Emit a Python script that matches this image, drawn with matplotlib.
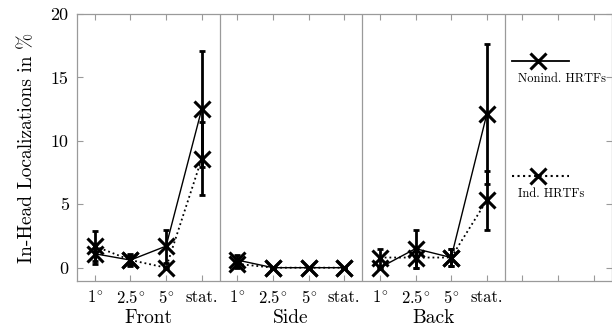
import numpy as np
import matplotlib.pyplot as plt

plt.rcParams['font.family'] = ['cmr10', 'DejaVu Serif']
plt.rcParams['mathtext.fontset'] = 'cm'
plt.rcParams['axes.unicode_minus'] = False

# 数据
groups = ['Front', 'Side', 'Back']
conditions = [r'1$^{\circ}$', r'2.5$^{\circ}$', r'5$^{\circ}$', 'stat.']

nonind_mean = {
    'Front': [1.1, 0.6, 1.7, 12.5],
    'Side': [0.6, 0.0, 0.0, 0.0],
    'Back': [0.0, 1.5, 0.8, 12.1],
}
nonind_err = {
    'Front': [0.8, 0.5, 1.3, 4.6],
    'Side': [0.4, 0.0, 0.0, 0.0],
    'Back': [0.0, 1.5, 0.7, 5.5],
}
ind_mean = {
    'Front': [1.7, 0.6, 0.0, 8.6],
    'Side': [0.3, 0.0, 0.0, 0.0],
    'Back': [0.8, 0.8, 0.8, 5.3],
}
ind_err = {
    'Front': [1.2, 0.4, 0.0, 2.9],
    'Side': [0.3, 0.0, 0.0, 0.0],
    'Back': [0.7, 0.8, 0.7, 2.3],
}

grey = '#9a9a9a'

fig = plt.figure(figsize=(6.12, 3.31), dpi=100)
ax = fig.add_axes([77 / 612, 50 / 331, 534.5 / 612, 267 / 331])

for g_idx, g in enumerate(groups):
    x = np.arange(1, 5) + 4 * g_idx
    # 误差棒
    ax.errorbar(x, nonind_mean[g], yerr=nonind_err[g], fmt='none', ecolor='black',
                elinewidth=2.0, capsize=2.5, capthick=2.0, zorder=3)
    ax.errorbar(x, ind_mean[g], yerr=ind_err[g], fmt='none', ecolor='black',
                elinewidth=2.0, capsize=2.5, capthick=2.0, zorder=3)
    ax.plot(x, nonind_mean[g], color='black', linestyle='-', linewidth=1.0,
            marker='x', markersize=12, markeredgewidth=2.2, zorder=4)
    ax.plot(x, ind_mean[g], color='black', linestyle=':', linewidth=1.3,
            marker='x', markersize=12, markeredgewidth=2.2, zorder=4)
    ax.text(2.5 + 4 * g_idx, -4.0, g, ha='center', va='center', fontsize=14)

# 分隔线
for sep in [4.5, 8.5, 12.5]:
    ax.axvline(sep, color=grey, linewidth=0.9, zorder=1)

# 图例（画在右侧区域内）
ax.plot([12.7, 14.3], [16.3, 16.3], color='black', linestyle='-', linewidth=1.3)
ax.plot([13.45], [16.3], color='black', marker='x', markersize=12, markeredgewidth=2.2)
ax.text(12.88, 14.85, 'Nonind. HRTFs', ha='left', va='center', fontsize=9)
ax.plot([12.7, 14.3], [7.2, 7.2], color='black', linestyle=':', linewidth=1.5)
ax.plot([13.45], [7.2], color='black', marker='x', markersize=12, markeredgewidth=2.2)
ax.text(12.88, 5.8, 'Ind. HRTFs', ha='left', va='center', fontsize=9)

ax.set_xlim(0.5, 15.5)
ax.set_ylim(-1.05, 20)
ax.set_xticks(np.arange(1, 16))
ax.set_xticklabels(conditions * 3 + [''] * 3, fontsize=12)
ax.set_yticks([0, 5, 10, 15, 20])
ax.set_yticklabels(['0', '5', '10', '15', '20'], fontsize=13)
ax.tick_params(direction='in', color=grey, length=4, width=0.8,
               top=True, right=True, pad=6)
for s in ax.spines.values():
    s.set_color(grey)
    s.set_linewidth(0.9)
ax.set_ylabel('In-Head Localizations in %', fontsize=14, labelpad=10)

fig.savefig('out.png', dpi=100)
